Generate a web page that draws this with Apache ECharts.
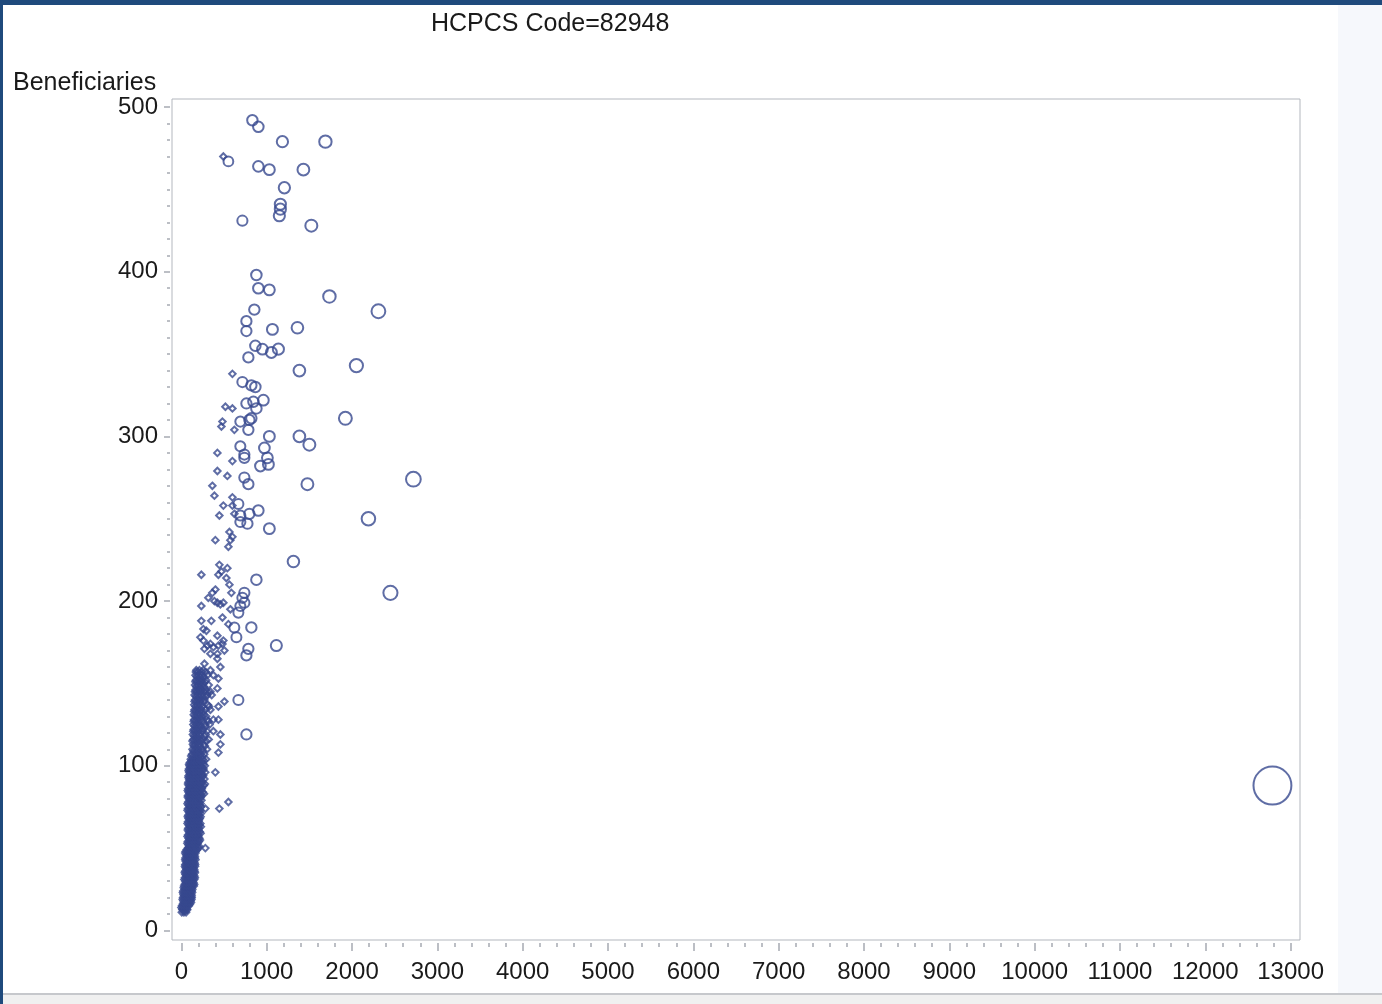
<!DOCTYPE html>
<html>
<head>
<meta charset="utf-8">
<script src="https://cdn.jsdelivr.net/npm/echarts@6/dist/echarts.min.js"></script>
<style>
html,body{margin:0;padding:0;background:#fff;}
#chart{width:1382px;height:1004px;}
</style>
</head>
<body>
<div id="chart"></div>
<script>
// ---- data ----
const chartTitle = 'HCPCS Code=82948';
const yAxisTitle = 'Beneficiaries';
const xTickValues = [0,1000,2000,3000,4000,5000,6000,7000,8000,9000,10000,11000,12000,13000];
const yTickValues = [0,100,200,300,400,500];

// dense low-volume cluster: each row is [beneficiaries, services...]
const denseRows = [
 [11,5,30,55],[12.5,15,42,68],[14,0,25,50],[16,18,45,72,100],[18,22,50,80,110],
 [20,20,48,76,105,120],[22,25,55,85,115],[24,22,50,78,108,122],[26,28,58,88,118],
 [28,40,70,100,130,150],[30,45,75,105,135],[32,42,72,102,132,158],[34,48,78,108,140],
 [36,44,74,104,134,155],[38,50,80,110,142],[40,46,76,106,136,160],[42,52,82,112,145],
 [44,48,78,108,138,158],[46,55,85,115,148],[48,50,80,110,140,162],[50,78,108,138,168,200],
 [52,82,112,142,175],[54,76,106,136,166,205],[56,85,115,145,178,210],[58,78,108,138,170,198],
 [60,88,118,148,182,215],[62,80,110,140,172,205],[64,86,116,146,178,212],[66,78,108,138,168,200],
 [68,84,114,144,176,215],[70,80,110,140,172,205],[72,88,118,148,180,212],[74,78,108,138,170,200],
 [76,85,115,145,178,215],[78,80,110,140,172,208],[80,88,118,148,180,218],[82,78,108,138,168,200,235],
 [84,84,114,144,176,210,250],[86,80,110,140,172,205,240],[88,88,118,148,180,215,262],
 [90,82,112,142,175,208,245],[92,90,120,150,182,220,270],[94,85,115,145,178,212,255],
 [96,92,122,152,185,225,280],[98,88,118,148,180,215,260],[100,95,125,155,190,230,275],
 [102,100,130,162,195,238],[104,110,140,172,205,250,290],[107,125,158,190,225,268],
 [110,130,165,200,240,300],[113,135,168,205,262],[116,140,175,212,250,320],[119,135,170,208,285],
 [122,145,180,218,255],[125,140,175,212,270,330],[128,150,185,225,300],[131,145,180,215,262],
 [134,155,190,230,280,340],[137,150,185,222,310],[140,160,195,235,270],[143,155,190,228,300,355],
 [146,165,200,240,280],[149,160,195,235,320],[152,170,205,245,290],[155,165,200,240,305],
 [158,175,212,255]
];
// more providers inside the same cluster (in-between rows)
const denseRowsB = [
 [13,10,38,62],[15,8,35,60,88],[17,30,58,85,112],[19,15,40,65,95,118],[21,32,62,92,120],
 [23,18,45,70,98,125],[25,38,65,95,128],[27,32,60,90,120,145],[29,55,85,115,142],
 [31,35,62,92,122,150],[33,58,88,120,152],[35,40,68,98,128,158],[37,60,90,122,150],
 [39,42,70,100,130,160],[41,62,92,125,155],[43,45,72,102,132,165],[45,65,95,128,158],
 [47,45,75,105,135,165],[49,62,92,122,155,185],[51,92,122,152,185,210],[53,70,98,128,158,190],
 [55,95,125,155,190,218],[57,72,100,130,162,195],[59,98,128,160,192,225],[61,75,105,135,165,198],
 [63,100,130,162,195,228],[65,72,102,132,162,192,222],[67,98,128,160,190,205],
 [69,75,105,135,165,195,225],[71,100,130,162,195,228],[73,72,102,132,162,192,220],
 [75,100,130,160,192,230],[77,72,102,132,162,195,225],[79,100,130,162,195,235],
 [81,75,105,135,165,195,225],[83,95,125,158,190,225,265],[85,75,102,130,160,192,228],
 [87,100,130,162,195,238],[89,78,108,135,165,198,232,275],[91,98,128,160,192,232],
 [93,82,108,138,168,200,240],[95,100,130,162,198,242],[97,85,112,140,170,205,250],
 [99,105,135,168,202,245],[101,90,118,148,178,212,258],[103,120,150,182,218,262],
 [106,115,148,180,212,245],[109,140,175,210,255],[112,145,180,218,275],[115,130,160,195,230,290],
 [118,150,185,222,265],[121,140,165,200,240,300],[124,155,192,232,285],[127,145,170,205,248,315],
 [130,160,198,240,290],[133,150,175,212,255],[136,165,205,248,325],[139,155,180,218,262],
 [142,170,210,255,290],[145,160,185,222,270,340],[148,175,215,260],[151,165,190,228,275],
 [154,180,220,265],[157,170,195,238,285]
];

// scattered small providers [services, beneficiaries]
const scatterSmall = [
 [598,338],[516,318],[598,317],[481,309],[469,306],[621,304],[422,290],[598,285],[422,279],[539,276],
 [363,270],[387,264],[598,263],[492,258],[598,258],[445,252],[621,253],[563,242],[598,239],[574,237],
 [551,233],[398,237],[445,222],[539,220],[469,218],[434,216],[234,216],[527,214],[563,210],[398,207],
 [363,205],[316,202],[586,205],[457,198],[234,197],[492,199],[422,199],[387,200],[574,195],[481,190],
 [234,188],[351,188],[551,186],[258,183],[293,182],[422,179],[223,178],[258,176],[492,176],[481,174],
 [305,173],[340,174],[375,172],[434,173],[504,170],[270,171],[340,168],[422,168],[422,165],[270,162],
 [457,160],[340,158],[258,150],[223,146],[305,145],[375,155],[434,153],[422,147],[504,139],[434,136],
 [375,128],[434,128],[375,121],[457,119],[457,113],[434,108],[398,96],[551,78],[445,74],[281,74],
 [281,50],[492,470]
];

// larger providers drawn as bubbles [services, beneficiaries]
const bubblePoints = [
 [832,492],[902,488],[1184,479],[1688,479],[551,467],[902,464],[1031,462],[1430,462],[1207,451],
 [1160,441],[1160,438],[1148,434],[715,431],[1523,428],[879,398],[902,390],[1031,389],[1735,385],
 [2309,376],[855,377],[762,370],[762,364],[1067,365],[1360,366],[867,355],[950,353],[1055,351],
 [1137,353],[785,348],[2051,343],[1383,340],[715,333],[820,331],[867,330],[762,320],[844,321],
 [961,322],[879,317],[1922,311],[691,309],[797,310],[820,311],[785,304],[1031,300],[1383,300],
 [1500,295],[691,294],[973,293],[738,289],[738,287],[1008,287],[926,282],[1020,283],[738,275],
 [785,271],[1477,271],[2719,274],[668,259],[902,255],[691,252],[797,253],[691,248],[774,247],
 [1031,244],[2192,250],[1313,224],[879,213],[738,205],[715,202],[738,199],[691,197],[2450,205],
 [668,193],[820,184],[621,184],[645,178],[785,171],[762,167],[1113,173],[668,140],[762,119],
 [12787,88]
];

// ---- build ----
const smallData = [];
denseRows.concat(denseRowsB).forEach(r => { for (let i = 1; i < r.length; i++) smallData.push([r[i], r[0]]); });
scatterSmall.forEach(p => smallData.push(p));

const xMinor = [];
for (let i = 0; i < xTickValues.length - 1; i++) {
  const a = xTickValues[i], b = xTickValues[i+1];
  for (let k = 1; k < 5; k++) xMinor.push(a + (b - a) * k / 5);
}
const yMinor = [];
for (let i = 0; i < yTickValues.length - 1; i++) {
  const a = yTickValues[i], b = yTickValues[i+1];
  for (let k = 1; k < 10; k++) yMinor.push(a + (b - a) * k / 10);
}

const markColor = '#37498f';
const axisGray = '#a7abb2';
const textColor = '#1a1a1a';
const FONT = '"Liberation Sans", Arial, sans-serif';
const X_MIN = -110, X_MAX = 13110, Y_MIN = -5.8, Y_MAX = 504.9;
const plain = v => String(v);

const chart = echarts.init(document.getElementById('chart'), null, {renderer: 'canvas'});
chart.setOption({
  animation: false,
  backgroundColor: '#ffffff',
  title: {
    text: chartTitle, left: 426, top: 7,
    textStyle: {fontSize: 25, fontWeight: 'normal', color: textColor, fontFamily: FONT}
  },
  graphic: [
    {type: 'rect', shape: {x: 1338, y: 5, width: 44, height: 988}, style: {fill: '#f6f8fc'}, silent: true},
    {type: 'rect', shape: {x: 0, y: 993, width: 1382, height: 2}, style: {fill: '#c6c8cc'}, silent: true},
    {type: 'rect', shape: {x: 0, y: 995, width: 1382, height: 9}, style: {fill: '#f0f0f0'}, silent: true},
    {type: 'rect', shape: {x: 0, y: 0, width: 1382, height: 5}, style: {fill: '#1f4a7c'}, silent: true},
    {type: 'rect', shape: {x: 0, y: 0, width: 3, height: 1004}, style: {fill: '#1f4a7c'}, silent: true},
    {type: 'text', left: 13, top: 71, silent: true,
     style: {text: yAxisTitle, fontSize: 25, fill: textColor, fontFamily: FONT}}
  ],
  grid: {
    left: 172, top: 99, right: 1382 - 1300, bottom: 1004 - 940,
    show: true, borderColor: '#b3b7be', borderWidth: 1, backgroundColor: 'transparent'
  },
  xAxis: [
    {
      type: 'value', min: X_MIN, max: X_MAX, position: 'bottom', offset: 3,
      axisLine: {show: false, onZero: false}, splitLine: {show: false},
      axisTick: {show: true, customValues: xTickValues, length: 8, lineStyle: {color: axisGray, width: 1.5}},
      axisLabel: {show: true, customValues: xTickValues, formatter: plain, margin: 17, fontSize: 24, color: textColor, fontFamily: FONT}
    },
    {
      type: 'value', min: X_MIN, max: X_MAX, position: 'bottom', offset: 3,
      axisLine: {show: false, onZero: false}, splitLine: {show: false},
      axisTick: {show: true, customValues: xMinor, length: 4, lineStyle: {color: axisGray, width: 1.5}},
      axisLabel: {show: false}
    }
  ],
  yAxis: [
    {
      type: 'value', min: Y_MIN, max: Y_MAX, position: 'left', offset: 2,
      axisLine: {show: false, onZero: false}, splitLine: {show: false},
      axisTick: {show: true, customValues: yTickValues, length: 6, lineStyle: {color: axisGray, width: 1.5}},
      axisLabel: {show: true, customValues: yTickValues, formatter: plain, margin: 12, fontSize: 24, color: textColor, fontFamily: FONT}
    },
    {
      type: 'value', min: Y_MIN, max: Y_MAX, position: 'left', offset: 2,
      axisLine: {show: false, onZero: false}, splitLine: {show: false},
      axisTick: {show: true, customValues: yMinor, length: 3, lineStyle: {color: axisGray, width: 1.5}},
      axisLabel: {show: false}
    }
  ],
  series: [
    {
      type: 'scatter', name: 'small', xAxisIndex: 0, yAxisIndex: 0,
      symbol: 'diamond', symbolSize: 6.5, data: smallData, silent: true,
      itemStyle: {color: 'rgba(255,255,255,0)', borderColor: markColor, borderWidth: 2},
      emphasis: {disabled: true}
    },
    {
      type: 'scatter', name: 'bubbles', xAxisIndex: 0, yAxisIndex: 0,
      symbol: 'circle', data: bubblePoints, silent: true,
      symbolSize: v => 8.5 + v[0] * 0.0023,
      itemStyle: {color: 'rgba(255,255,255,0)', borderColor: markColor, borderWidth: 2},
      emphasis: {disabled: true}
    }
  ]
});
</script>
</body>
</html>
